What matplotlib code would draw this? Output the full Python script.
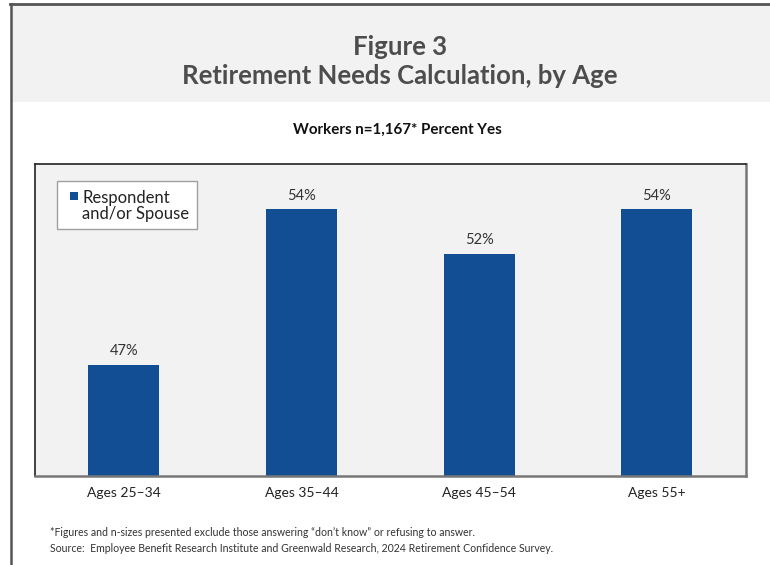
import matplotlib
matplotlib.use("Agg")
import matplotlib.pyplot as plt
from matplotlib.patches import Rectangle
from matplotlib.lines import Line2D

categories = ["Ages 25\u201334", "Ages 35\u201344", "Ages 45\u201354", "Ages 55+"]
values = [47, 54, 52, 54]
value_labels = ["47%", "54%", "52%", "54%"]
series_name = "Respondent\nand/or Spouse"
title1 = "Figure 3"
title2 = "Retirement Needs Calculation, by Age"
subtitle = "Workers n=1,167* Percent Yes"
foot1 = "*Figures and n-sizes presented exclude those answering \u201cdon\u2019t know\u201d or refusing to answer."
foot2 = "Source:  Employee Benefit Research Institute and Greenwald Research, 2024 Retirement Confidence Survey."

BAR = "#124E94"
W, H = 770, 565
FONT = "Lato"

fig = plt.figure(figsize=(W / 100, H / 100), dpi=100)
fig.patch.set_facecolor("white")

def fx(px):
    return px / W

def fy(py):
    return 1 - py / H

# header band
fig.patches.append(Rectangle((fx(10), fy(102)), fx(760), (102 - 4) / H,
                             transform=fig.transFigure, facecolor="#f2f2f2",
                             edgecolor="none", zorder=0))
fig.add_artist(Line2D([fx(10), 1], [fy(4), fy(4)], transform=fig.transFigure,
                      color="#555555", lw=2))
fig.add_artist(Line2D([fx(10.5), fx(10.5)], [fy(4), 0], transform=fig.transFigure,
                      color="#555555", lw=1.8))

fig.text(fx(400), fy(47), title1, ha="center", va="center", fontsize=18.5,
         fontweight="bold", color="#4d4d4d", family=FONT)
fig.text(fx(400), fy(76), title2, ha="center", va="center", fontsize=18.5,
         fontweight="bold", color="#4d4d4d", family=FONT)
fig.text(fx(397), fy(130), subtitle, ha="center", va="center", fontsize=10.9,
         fontweight="bold", color="#111111", family=FONT)

ax = fig.add_axes([fx(35), fy(475.7), (745.7 - 35) / W, (475.7 - 164) / H])
ax.set_facecolor("#f2f2f2")
x = list(range(len(categories)))
bars = ax.bar(x, values, width=0.4, color=BAR, zorder=2)
ax.set_xlim(-0.5, len(categories) - 0.5)
ax.set_ylim(42, 56.05)
ax.set_yticks([])
ax.set_xticks(x)
ax.set_xticklabels(categories, fontsize=10, color="#222222", family=FONT)
ax.tick_params(axis="x", length=0, pad=8)
for xi, v, lab in zip(x, values, value_labels):
    ax.annotate(lab, (xi, v), xytext=(0, 5), textcoords="offset points",
                ha="center", va="bottom", fontsize=10.5, color="#333333", family=FONT)
for s in ["top", "left"]:
    ax.spines[s].set_color("#222222")
    ax.spines[s].set_linewidth(1.2)
for s in ["bottom", "right"]:
    ax.spines[s].set_color("#777777")
    ax.spines[s].set_linewidth(1.8)

# legend box
fig.patches.append(Rectangle((fx(57), fy(229)), (197 - 57) / W, (229 - 181) / H,
                             transform=fig.transFigure, facecolor="white",
                             edgecolor="#a0a0a0", lw=1, zorder=5))
fig.patches.append(Rectangle((fx(70), fy(200)), 8 / W, 8 / H,
                             transform=fig.transFigure, facecolor=BAR,
                             edgecolor="none", zorder=6))
fig.text(fx(82), fy(189.5), series_name, ha="left", va="top", fontsize=12,
         color="#222222", family=FONT, linespacing=1.05, zorder=7)

fig.text(fx(50), fy(533), foot1, ha="left", va="center", fontsize=7.6,
         color="#333333", family=FONT)
fig.text(fx(50), fy(548), foot2, ha="left", va="center", fontsize=7.6,
         color="#333333", family=FONT)

fig.savefig("out.png", dpi=100)
